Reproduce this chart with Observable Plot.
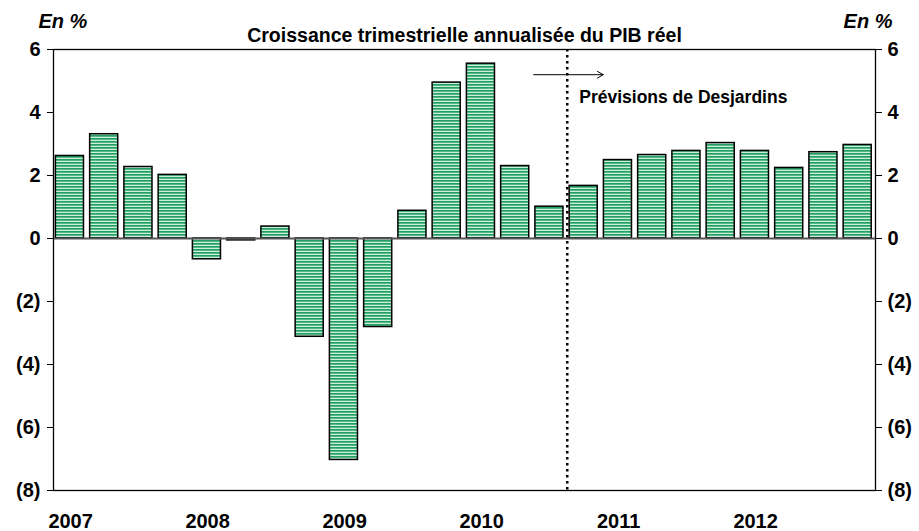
<!DOCTYPE html>
<html><head><meta charset="utf-8">
<script src="https://cdn.jsdelivr.net/npm/d3@7"></script>
<script src="https://cdn.jsdelivr.net/npm/@observablehq/plot@0.6"></script>
<style>body{margin:0;background:#fff;font-family:"Liberation Sans",Arial,sans-serif}</style>
</head><body><div id="chart"></div>
<script>
const quarters = ["2007T1","2007T2","2007T3","2007T4","2008T1","2008T2","2008T3","2008T4","2009T1","2009T2","2009T3","2009T4","2010T1","2010T2","2010T3","2010T4","2011T1","2011T2","2011T3","2011T4","2012T1","2012T2","2012T3","2012T4"];
const growth = [2.62,3.31,2.27,2.02,-0.66,-0.06,0.38,-3.12,-7.03,-2.81,0.88,4.95,5.55,2.30,1.01,1.67,2.49,2.65,2.78,3.03,2.78,2.24,2.74,2.97];
const years = ["2007","2008","2009","2010","2011","2012"];
const yTicks = [-8,-6,-4,-2,0,2,4,6];
const title = "Croissance trimestrielle annualisée du PIB réel";
const unitLabel = "En %";
const forecastLabel = "Prévisions de Desjardins";
const forecastStart = 15;

const data = quarters.map((q,i)=>({q, i, v: growth[i]}));
const fmt = d => d < 0 ? `(${-d})` : `${d}`;
const font = {fontFamily:"Liberation Sans, Arial, sans-serif", fontWeight:"bold"};

const chart = Plot.plot({
  width: 919, height: 531,
  marginLeft: 53, marginRight: 44, marginTop: 49, marginBottom: 41,
  style: {fontFamily:"Liberation Sans, Arial, sans-serif", fontSize:"20px", fontWeight:"bold", color:"#000"},
  x: {domain:[0, quarters.length], axis: null},
  y: {domain:[-8, 6], axis: null},
  marks: [
    Plot.rectY(data, {x1: d=>d.i+0.07, x2: d=>d.i+0.89, y1: 0, y2: "v", fill: "url(#stripes)", stroke: "#000", strokeWidth: 1.5}),
    Plot.ruleY([0], {stroke:"#555", strokeWidth:2}),
    Plot.frame({stroke:"#000", strokeWidth:1.3}),
    Plot.axisY(yTicks, {anchor:"left", tickSize:6, tickPadding:7, tickFormat: fmt, fontSize:20, fontWeight:"bold", label:null, stroke:"#000"}),
    Plot.axisY(yTicks, {anchor:"right", tickSize:6, tickPadding:6, tickFormat: fmt, fontSize:20, fontWeight:"bold", label:null, stroke:"#000"}),
    Plot.ruleX([forecastStart], {stroke:"#000", strokeWidth:2.5, strokeDasharray:"2.5,3.5"}),
    Plot.arrow([0], {x1: forecastStart-0.98, x2: forecastStart+1.05, y1: 5.2, y2: 5.2, stroke:"#000", strokeWidth:1, headLength:10, bend:0}),
    Plot.text([forecastLabel], {x: forecastStart+0.35, y: 4.48, text: d=>d, textAnchor:"start", fontSize:17.5, ...font}),
    Plot.text(years, {x: (d,i)=>4*i + 0.5, y: -8, dy: 31, text: d=>d, fontSize:20, ...font}),
    Plot.text([title], {frameAnchor:"top", dy:-21, text:d=>d, fontSize:19.5, ...font}),
    Plot.text([unitLabel], {frameAnchor:"top-left", dx:-15, dy:-36, text:d=>d, fontSize:20, fontStyle:"italic", ...font}),
    Plot.text([unitLabel], {frameAnchor:"top-right", dx:17, dy:-36, text:d=>d, fontSize:20, fontStyle:"italic", ...font})
  ]
});

const ns = "http://www.w3.org/2000/svg";
const defs = document.createElementNS(ns, "defs");
defs.innerHTML = `<pattern id="stripes" patternUnits="userSpaceOnUse" width="6" height="3">
  <rect width="6" height="3" fill="#cdeedb"/>
  <rect y="0" width="6" height="1.7" fill="#22a064"/>
</pattern>`;
chart.insertBefore(defs, chart.firstChild);
document.getElementById("chart").appendChild(chart);
</script></body></html>
